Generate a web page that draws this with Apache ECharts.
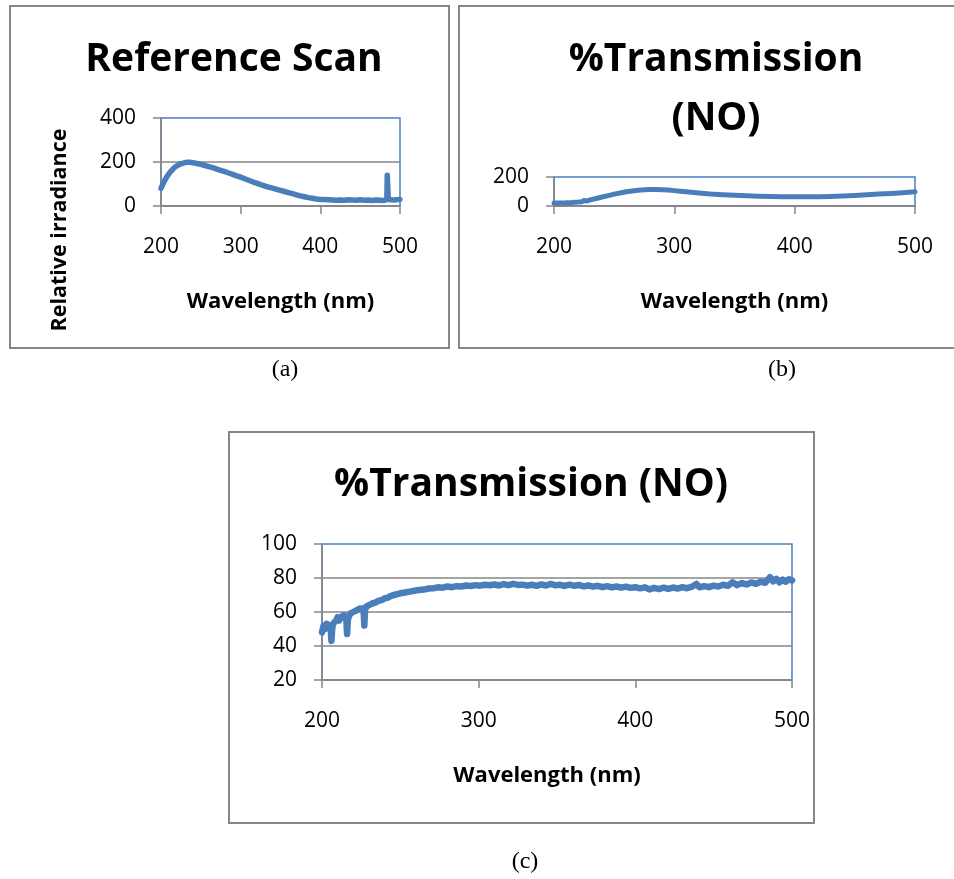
<!DOCTYPE html>
<html><head><meta charset="utf-8">
<script src="https://cdn.jsdelivr.net/npm/echarts@6/dist/echarts.min.js"></script>
<style>html,body{margin:0;padding:0;background:#fff}#c{width:954px;height:879px}</style>
</head><body><div id="c"></div>
<script>
// ---- data ----
const xAxisTicks = [200, 300, 400, 500];

// (a) Reference Scan
const refWavelength = [200,203,206,209,212,215,218,221,224,227,230,233,236,240,245,250,255,260,265,270,275,280,285,290,295,300,305,310,315,320,325,330,335,340,345,350,355,360,365,370,375,380,385,390,395,400,405,410,415,420,425,430,435,440,445,450,455,460,465,470,475,480,482,483.5,484,484.8,485.3,487,490,493,496,500];
const refIrradiance = [80,105,125,142,156,168,178,185,190,194,197,199,199,197,193,189,184,179,174,168,162,156,150,144,137,131,124,117,110,104,97,91,86,81,76,71,66,61,56,51,46,42,38,35,32,30,29,28,27,26,27,26,28,27,26,28,26,27,25,27,26,25,27,30,140,136,30,26,28,27,29,30];

// (b) %Transmission (NO)
const bWavelength = [200,205,210,215,220,223,225,227,230,235,240,245,250,255,260,265,270,275,280,285,290,295,300,305,310,320,330,340,350,360,370,380,390,400,410,420,430,440,450,460,470,480,490,495,500];
const bTransmission = [20,21,22,24,27,30,38,34,42,52,62,72,82,90,98,104,109,112,114,114,112,110,106,102,98,90,83,78,74,70,67,65,64,63,63,64,66,69,73,77,82,87,92,95,98];

// (c) %Transmission (NO)
const cWavelength = [200,201,202,203,204,205,205.6,206,206.5,207,208,209,210,211,212,213,214,215,215.6,216,216.5,217,218,219,220,221,222,223,224,225,226,226.6,227,227.5,228,229,230,232,234,236,238,240,242,244,246,248,250,253,256,259,262,265,268,271,274,277,280,283,286,289,292,295,298,301,304,307,310,313,316,319,322,325,328,331,334,337,340,343,346,349,352,355,358,361,364,367,370,373,376,379,382,385,388,391,394,397,400,403,406,409,412,415,418,421,424,427,430,433,436,439,441,444,447,450,453,456,459,462,465,468,471,474,477,480,483,486,488,490,492,494,496,498,500];
const cTransmission = [48,52,50,53,54,52,50,43,50,53,54,55,57,55,57,56,58,57,55,47,55,57,59,58,60,59,61,60,62,61,62,60,52,61,63,63,64,65,65.5,66.5,67,68,68.5,69.5,70,70.5,71,71.5,72,72.5,73,73.2,73.8,74,74.5,74.3,75,74.6,75.2,75,75.6,75.3,75.8,75.5,76,75.7,76.2,75.6,76.4,75.8,76.6,75.9,76.1,75.5,76,75.4,76.2,75.6,76.5,75.7,76,75.3,76.1,75.4,75.9,75.1,75.6,74.9,75.4,74.6,75.2,74.5,75,74.3,74.9,74.2,74.6,73.9,74.5,73.3,74.2,73.5,74.3,73.6,74.4,73.8,74.6,74,74.8,76.5,74.5,75.2,74.6,75.5,75,76,75.4,77.5,75.8,77,76.2,77.4,76.6,77.8,77.2,80.5,78,79.5,77.4,79,77.8,79.3,78.6];

const titles = ['Reference Scan', '%Transmission\n(NO)', '%Transmission (NO)'];
const xName = 'Wavelength (nm)';
const yNameA = 'Relative irradiance';
const panelLabels = ['(a)', '(b)', '(c)'];

// ---- styling ----
const BLUE = '#4a7ebb';
const GREY = '#868686';
const FONT = 'Open Sans';
const zip = (xs, ys) => xs.map((x, i) => [x, ys[i]]);

function xAx(gi, padRight) {
  return {
    gridIndex: gi, type: 'value', min: 200, max: 500, interval: 100,
    axisLine: { show: true, lineStyle: { color: GREY, width: 1.5 } },
    axisTick: { show: true, length: 8, lineStyle: { color: GREY, width: 1.5 } },
    splitLine: { show: false },
    axisLabel: { margin: 31, fontSize: 21, color: '#000', fontFamily: FONT,
      formatter: v => xAxisTicks.includes(v) ? String(v) : '' },
    name: xName, nameLocation: 'middle', nameGap: 96,
    nameTextStyle: { fontWeight: 'bold', fontSize: 22, fontFamily: FONT, color: '#000',
      verticalAlign: 'middle', padding: [0, padRight || 0, 0, 0] }
  };
}
function yAx(gi, min, max, interval) {
  return {
    gridIndex: gi, type: 'value', min: min, max: max, interval: interval,
    axisLine: { show: true, onZero: false, lineStyle: { color: GREY, width: 1.5 } },
    axisTick: { show: true, length: 8, lineStyle: { color: GREY, width: 1.5 } },
    splitLine: { show: true, showMaxLine: false, lineStyle: { color: GREY, width: 1.5 } },
    axisLabel: { margin: 25, fontSize: 21, color: '#000', fontFamily: FONT }
  };
}
function ser(gi, data, w) {
  return { type: 'line', xAxisIndex: gi, yAxisIndex: gi, data: data, showSymbol: false,
    lineStyle: { color: BLUE, width: w, join: 'round', cap: 'round' }, itemStyle: { color: BLUE },
    animation: false, z: 3 };
}
function titleAt(text, x, y) {
  return { text: text, left: x, top: y, textAlign: 'center',
    textStyle: { fontFamily: FONT, fontWeight: 'bold', fontSize: 39, color: '#000', lineHeight: 59 } };
}
function frame(x, y, w, h) {
  return { type: 'rect', shape: { x: x, y: y, width: w, height: h },
    style: { fill: 'none', stroke: GREY, lineWidth: 2 }, silent: true, z: 0 };
}
function lab(text, x, y) {
  return { type: 'text', x: x, y: y,
    style: { text: text, fontFamily: 'Liberation Serif', fontSize: 24, fill: '#000', align: 'center', verticalAlign: 'middle' } };
}

const chart = echarts.init(document.getElementById('c'), null, { renderer: 'canvas' });
chart.setOption({
  backgroundColor: '#fff',
  animation: false,
  title: [
    titleAt(titles[0], 229, 25),
    titleAt(titles[1], 711, 25),
    titleAt(titles[2], 526, 450)
  ],
  grid: [
    { left: 161, top: 118, width: 239, height: 88, show: true, borderColor: BLUE, borderWidth: 1.5, backgroundColor: 'transparent' },
    { left: 554, top: 177, width: 361, height: 29, show: true, borderColor: BLUE, borderWidth: 1.5, backgroundColor: 'transparent' },
    { left: 322, top: 544, width: 470, height: 136, show: true, borderColor: BLUE, borderWidth: 1.5, backgroundColor: 'transparent' }
  ],
  xAxis: [xAx(0), xAx(1), xAx(2, 20)],
  yAxis: [yAx(0, 0, 400, 200), yAx(1, 0, 200, 200), yAx(2, 20, 100, 20)],
  series: [
    ser(0, zip(refWavelength, refIrradiance), 5.5),
    ser(1, zip(bWavelength, bTransmission), 5),
    ser(2, zip(cWavelength, cTransmission), 6.5)
  ],
  graphic: [
    frame(10, 6, 439, 342),
    frame(459, 6, 500, 342),
    frame(229, 432, 585, 391),
    { type: 'text', x: 60, y: 230, rotation: Math.PI / 2,
      style: { text: yNameA, fontFamily: FONT, fontWeight: 'bold', fontSize: 21.5, fill: '#000', align: 'center', verticalAlign: 'middle' } },
    lab(panelLabels[0], 285, 370),
    lab(panelLabels[1], 782, 370),
    lab(panelLabels[2], 525, 862)
  ]
});
</script>
</body></html>
